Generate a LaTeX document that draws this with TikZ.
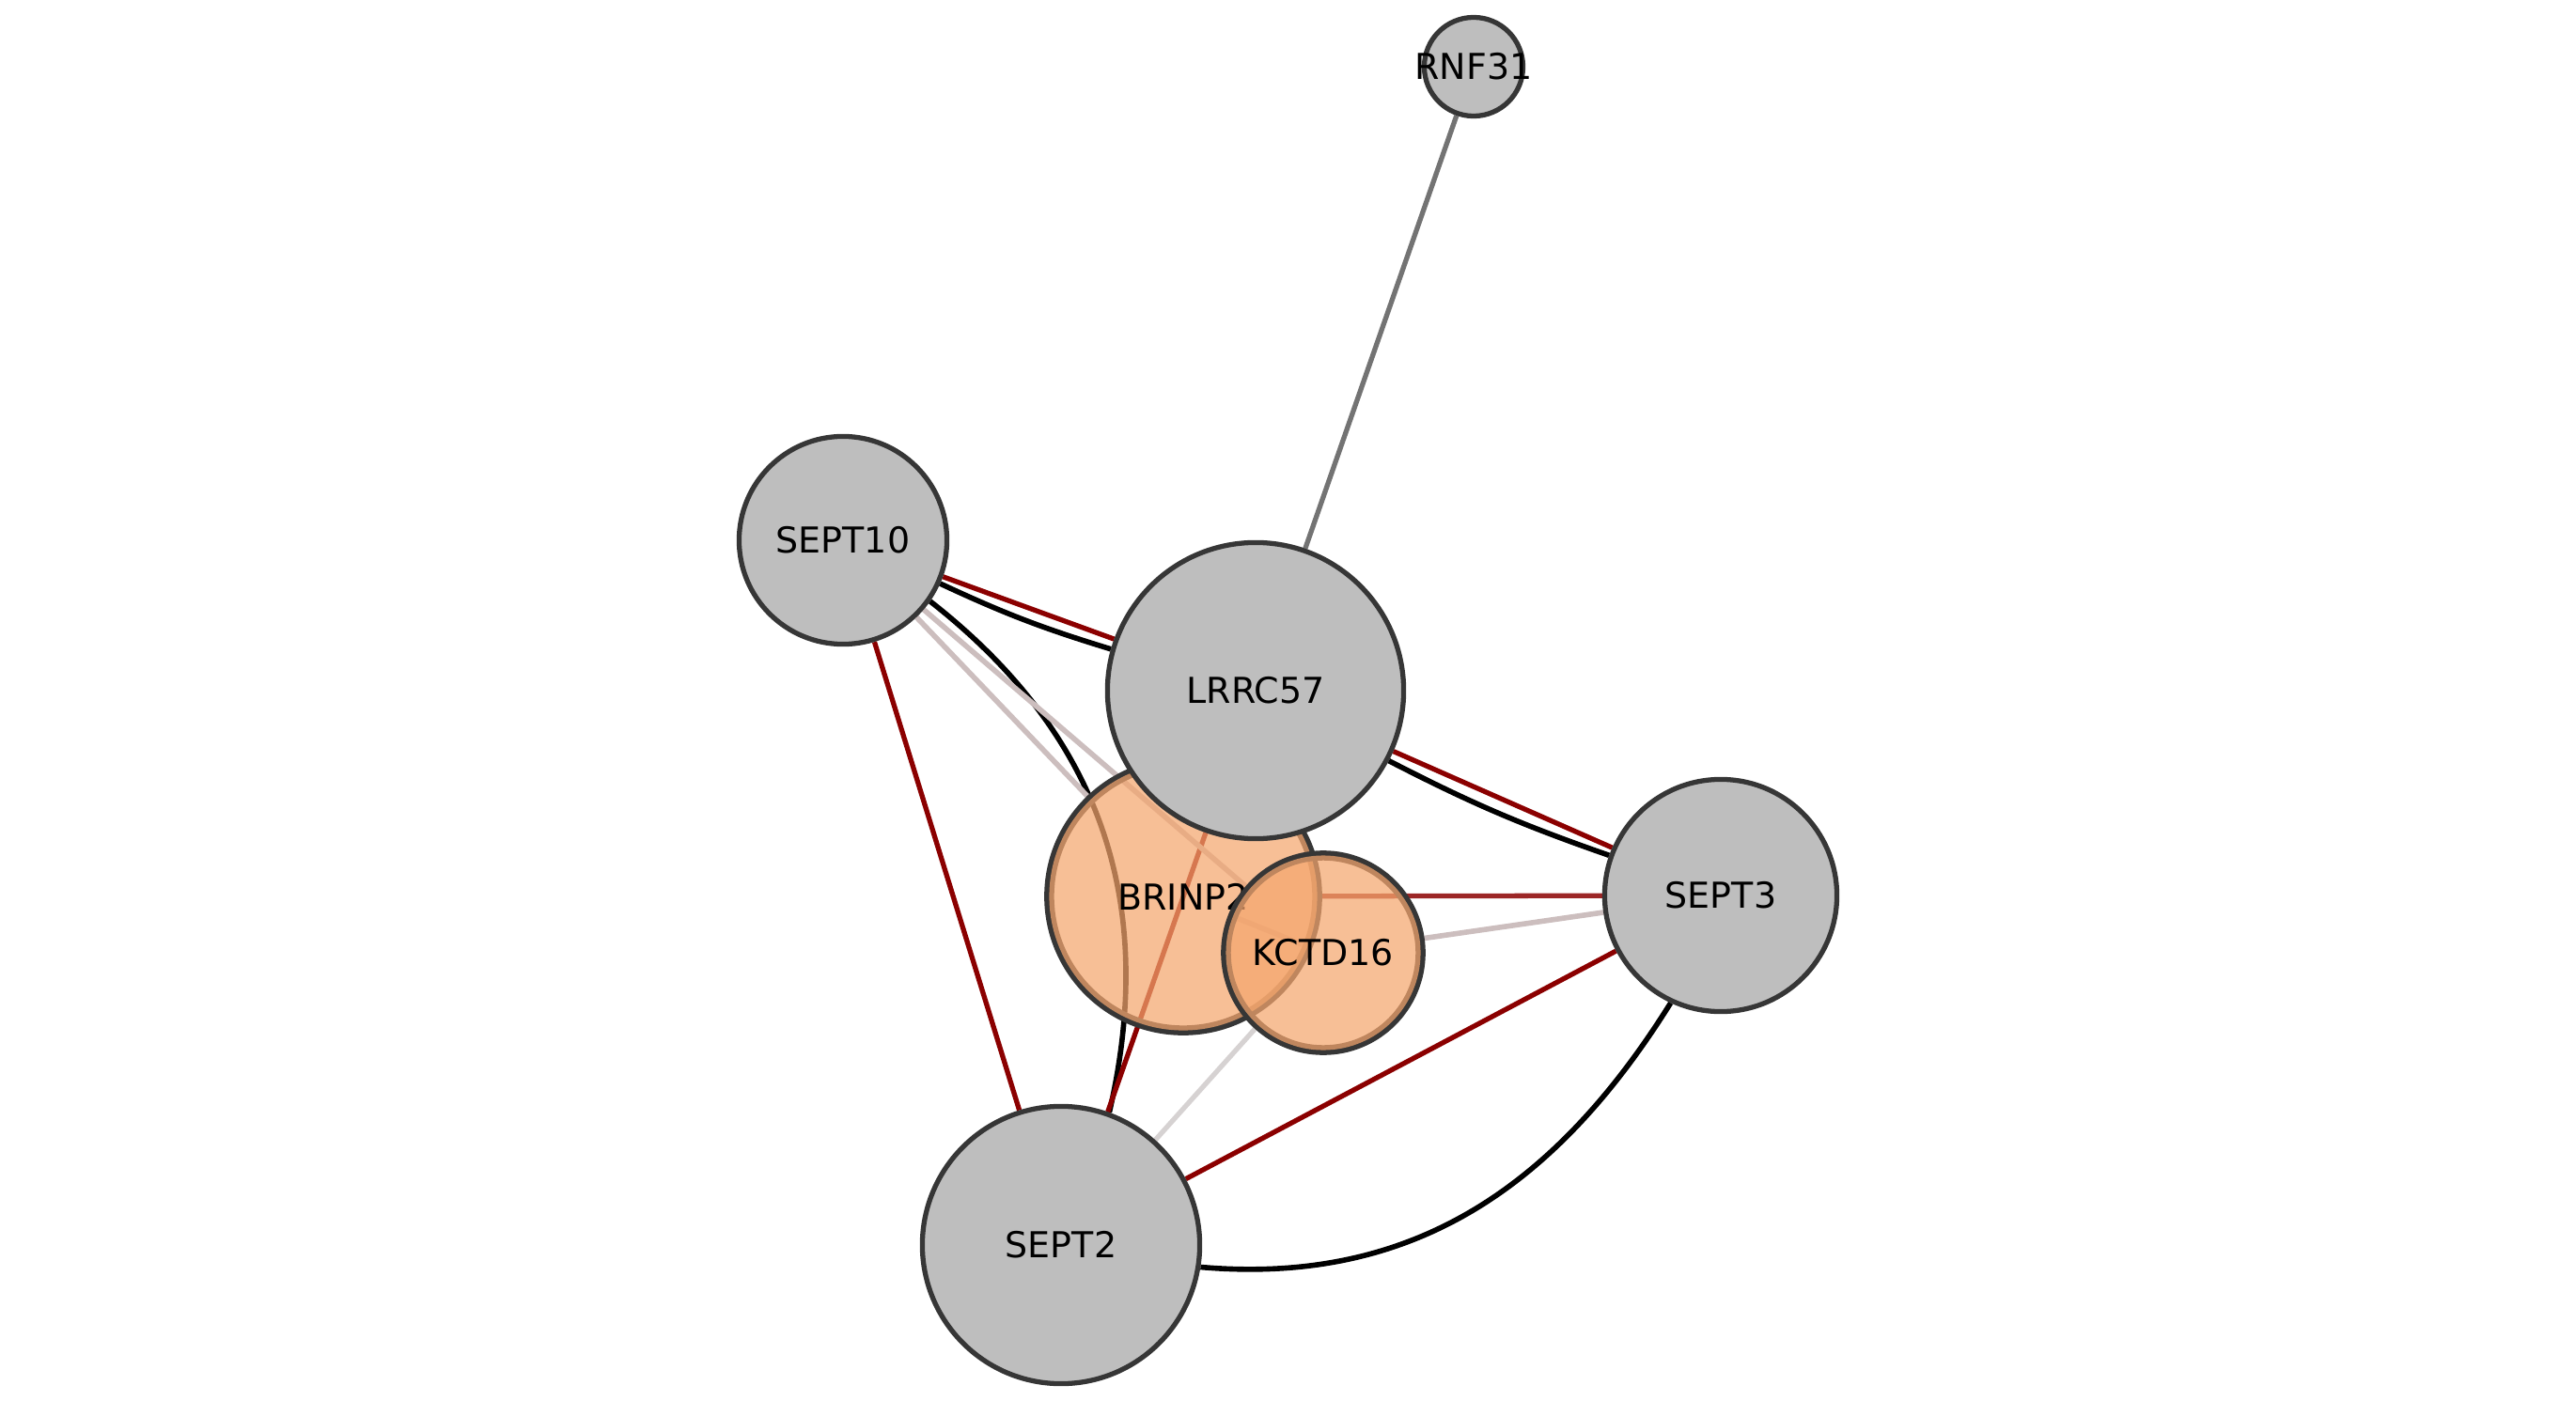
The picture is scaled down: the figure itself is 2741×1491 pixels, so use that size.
\documentclass[tikz,border=0pt]{standalone}
\usepackage{fontspec}
\usetikzlibrary{backgrounds}
\newfontfamily\genefont{DejaVu Sans}
\definecolor{nodegray}{HTML}{BEBEBE}
\definecolor{ring}{HTML}{363636}
\definecolor{hitfill}{RGB}{244,166,110}
\definecolor{linkred}{HTML}{8B0000}
\definecolor{linkgrey}{HTML}{737373}
\definecolor{linkpale}{RGB}{204,190,190}
\definecolor{linkfaint}{RGB}{214,210,210}
\tikzset{
gene/.style={circle, draw=ring, line width=1.5pt, fill=nodegray, inner sep=0pt}, % plain protein node
hit/.style={circle, draw=ring, line width=3pt, inner sep=0pt,
  postaction={fill=hitfill, fill opacity=0.72}}, % highlighted node, see-through fill over its ring
every label/.style={font=\genefont\fontsize{10.8}{13}\selectfont, inner sep=0pt},
redlink/.style={linkred, line width=1.5pt},
blacklink/.style={black, line width=1.6pt},
greylink/.style={linkgrey, line width=1.5pt},
palelink/.style={linkpale, line width=1.6pt},
fadelink/.style={linkfaint, line width=1.5pt},
}
\begin{document}
\begin{tikzpicture}[x=0.01cm, y=0.01cm]
    \useasboundingbox (0,0) rectangle (2741,-1491);

    \node[gene, minimum size=2.21cm, label=center:SEPT10] (sept10) at (897,-575) {};
    \node[gene, minimum size=2.95cm, label=center:SEPT2] (sept2) at (1129,-1325) {};
    \node[gene, minimum size=2.47cm, label=center:SEPT3] (sept3) at (1831,-953) {};
    \node[gene, minimum size=1.05cm, label=center:RNF31] (rnf31) at (1568,-71) {};
    \node[hit, minimum size=2.85cm, label=center:BRINP2] (brinp2) at (1259,-954) {};
    \node[hit, minimum size=2.07cm, label=center:KCTD16] (kctd16) at (1408,-1014) {};
    \node[gene, minimum size=3.15cm, label=center:LRRC57] (lrrc57) at (1336,-735) {};

  \begin{pgfonlayer}{background}
  \draw (rnf31) edge[greylink] (lrrc57)
        (sept10) edge[redlink] (lrrc57)
        (sept10) edge[blacklink, bend right=4] (lrrc57)
        (lrrc57) edge[redlink] (sept3)
        (lrrc57) edge[blacklink, bend right=4] (sept3)
        (sept10) edge[redlink] (sept2)
        (sept10.-35) edge[blacklink, out=-38, in=77, looseness=1.02] (sept2.70)
        (sept2) edge[redlink] (lrrc57)
        (sept10) edge[palelink] (brinp2)
        (sept10) edge[palelink] (kctd16)
        (brinp2) edge[palelink] (kctd16)
        (kctd16) edge[palelink] (sept3)
        (sept2) edge[fadelink] (kctd16)
        (brinp2) edge[redlink, opacity=.85] (sept3)
        (sept2) edge[redlink] (sept3)
        (sept2.-9) edge[blacklink, out=-5, in=238, looseness=1.02] (sept3.245);
  \end{pgfonlayer}

\end{tikzpicture}
\end{document}
